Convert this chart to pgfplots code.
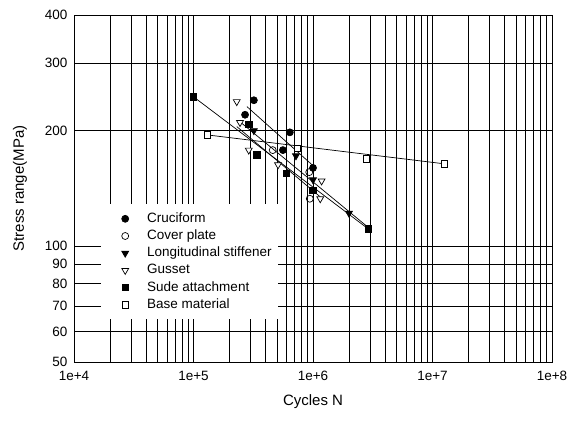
\documentclass[border=0pt]{standalone}
\usepackage{fontspec}
\setmainfont{Liberation Sans}
\usepackage{pgfplots}
\pgfplotsset{compat=1.18}
\begin{document}
\begin{tikzpicture}
\begin{axis}[
  scale only axis,
  width=478bp, height=347bp,
  xmode=log, ymode=log,
  xmin=1e4, xmax=1e8, ymin=50, ymax=400,
  xtick={1e4,1e5,1e6,1e7,1e8},
  xticklabels={\mbox{1e+4},\mbox{1e+5},\mbox{1e+6},\mbox{1e+7},\mbox{1e+8}},
  minor xtick={2e4,3e4,4e4,5e4,6e4,7e4,8e4,9e4,
               2e5,3e5,4e5,5e5,6e5,7e5,8e5,9e5,
               2e6,3e6,4e6,5e6,6e6,7e6,8e6,9e6,
               2e7,3e7,4e7,5e7,6e7,7e7,8e7,9e7},
  ytick={50,60,70,80,90,100,200,300,400},
  yticklabels={\mbox{50},\mbox{60},\mbox{70},\mbox{80},\mbox{90},\mbox{100},\mbox{200},\mbox{300},\mbox{400}},
  xmajorgrids, xminorgrids, ymajorgrids,
  grid style={black, line width=0.6bp},
  minor grid style={black, line width=0.6bp},
  axis line style={black, line width=0.7bp},
  major tick length=0pt, minor tick length=0pt,
  tick label style={font=\fontsize{13.5bp}{16bp}\selectfont},
  xticklabel style={yshift=-6bp},
  yticklabel style={xshift=-3bp},
  xlabel={Cycles N},
  ylabel={Stress range(MPa)},
  label style={font=\fontsize{15bp}{18bp}\selectfont},
  xlabel style={at={(axis description cs:0.5,-0.115)}, anchor=center},
  ylabel style={at={(axis description cs:-0.113,0.5)}, anchor=center},
  legend style={
    at={(axis description cs:0.0565,0.455)}, anchor=north west,
    fill=white, draw=none,
    font=\fontsize{13.5bp}{16bp}\selectfont,
    nodes={inner sep=0pt, text height=10bp, text depth=3bp},
    row sep=4.2bp, column sep=4bp,
    inner xsep=6bp, inner ysep=8bp,
  },
  legend cell align=left,
  legend image code/.code={\path[draw=none,fill=none] (0bp,-1bp) rectangle (36bp,1bp); \draw[#1] plot coordinates {(18bp,0bp)};},
  every axis plot/.append style={line width=0.7bp},
]
% regression lines
\addplot[black, forget plot] coordinates {(2.8e5,231) (1.05e6,160)};
\addplot[black, forget plot] coordinates {(1.0e5,245) (2.9e6,111)};
\addplot[black, forget plot] coordinates {(2.4e5,212) (2.9e6,112)};
\addplot[black, forget plot] coordinates {(2.3e5,205) (1.2e6,133)};
\addplot[black, forget plot] coordinates {(1.3e5,195) (1.25e7,164)};
% data
\addplot[only marks, mark=*, mark size=3.5bp, mark options={fill=black, draw=black}]
  coordinates {(3.2e5,240) (2.7e5,220) (6.4e5,198) (5.6e5,178) (1.0e6,160)};
\addlegendentry{Cruciform}
\addplot[only marks, mark=o, mark size=3.5bp, mark options={fill=white, draw=black}]
  coordinates {(4.6e5,178) (9.3e5,156) (9.4e5,133)};
\addlegendentry{Cover plate}
\addplot[only marks, mark=triangle*, mark size=4bp, mark options={fill=black, draw=black, rotate=180}]
  coordinates {(3.2e5,200) (7.2e5,172) (1.0e6,149) (2.0e6,122)};
\addlegendentry{Longitudinal stiffener\hspace{6bp}}
\addplot[only marks, mark=triangle*, mark size=4bp, mark options={fill=white, draw=black, rotate=180}]
  coordinates {(2.3e5,238) (2.45e5,210) (2.9e5,178) (5.1e5,163) (1.18e6,148) (1.15e6,133)};
\addlegendentry{Gusset}
\addplot[only marks, mark=square*, mark size=3.2bp, mark options={fill=black, draw=black}]
  coordinates {(1.0e5,245) (2.9e5,208) (3.4e5,173) (6.0e5,155) (1.0e6,140) (2.9e6,111)};
\addlegendentry{Sude attachment}
\addplot[only marks, mark=square*, mark size=3.2bp, mark options={fill=white, draw=black}]
  coordinates {(1.3e5,195) (7.4e5,180) (2.8e6,169) (1.25e7,164)};
\addlegendentry{Base material}
\coordinate (O) at (rel axis cs:0,0);
\end{axis}
\useasboundingbox ([shift={(-74bp,-63bp)}]O) rectangle ++(582bp,425bp);
\end{tikzpicture}
\end{document}
